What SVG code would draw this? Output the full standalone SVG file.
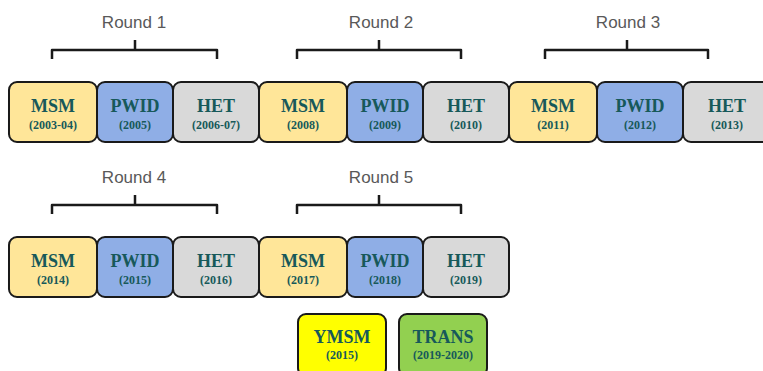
<svg xmlns="http://www.w3.org/2000/svg" width="763" height="371" viewBox="0 0 763 371">
<style>
.box{stroke:#1a1a1a;stroke-width:2}
.msm{fill:#FFE699}.pwid{fill:#8FAEE6}.het{fill:#D9D9D9}.ymsm{fill:#FFFF00}.trans{fill:#92D050}
.t{font-family:"Liberation Serif",serif;font-weight:bold;fill:#17595A;text-anchor:middle}
.n{font-size:18px}.y{font-size:12px}
.r{font-family:"Liberation Sans",sans-serif;font-size:17px;fill:#595959;text-anchor:middle}
.br{fill:none;stroke:#1a1a1a;stroke-width:2.5;stroke-linejoin:round}
</style>
<rect width="763" height="371" fill="#ffffff"/>
<g id="connectors">
<path class="br" d="M52 59 V50 H217 V59 M135 50 V40"/>
<path class="br" d="M297 59 V50 H461 V59 M379 50 V40"/>
<path class="br" d="M545 59 V50 H708 V59 M627 50 V40"/>
<path class="br" d="M52 214 V205 H217 V214 M135 205 V195"/>
<path class="br" d="M297 214 V205 H461 V214 M379 205 V195"/>
</g>
<g id="labels">
<text class="r" x="134" y="28">Round 1</text>
<text class="r" x="381" y="28">Round 2</text>
<text class="r" x="628" y="28">Round 3</text>
<text class="r" x="134" y="183">Round 4</text>
<text class="r" x="381" y="183">Round 5</text>
</g>
<g id="r1-msm"><rect class="box msm" x="9" y="82" width="88" height="60" rx="8"/><text class="t n" x="53" y="112">MSM</text><text class="t y" x="53" y="129">(2003-04)</text></g>
<g id="r1-pwid"><rect class="box pwid" x="97" y="82" width="76" height="60" rx="8"/><text class="t n" x="135" y="112">PWID</text><text class="t y" x="135" y="129">(2005)</text></g>
<g id="r1-het"><rect class="box het" x="173" y="82" width="86" height="60" rx="8"/><text class="t n" x="216" y="112">HET</text><text class="t y" x="216" y="129">(2006-07)</text></g>
<g id="r2-msm"><rect class="box msm" x="259" y="82" width="88" height="60" rx="8"/><text class="t n" x="303" y="112">MSM</text><text class="t y" x="303" y="129">(2008)</text></g>
<g id="r2-pwid"><rect class="box pwid" x="347" y="82" width="76" height="60" rx="8"/><text class="t n" x="385" y="112">PWID</text><text class="t y" x="385" y="129">(2009)</text></g>
<g id="r2-het"><rect class="box het" x="423" y="82" width="86" height="60" rx="8"/><text class="t n" x="466" y="112">HET</text><text class="t y" x="466" y="129">(2010)</text></g>
<g id="r3-msm"><rect class="box msm" x="509" y="82" width="88" height="60" rx="8"/><text class="t n" x="553" y="112">MSM</text><text class="t y" x="553" y="129">(2011)</text></g>
<g id="r3-pwid"><rect class="box pwid" x="597" y="82" width="86" height="60" rx="8"/><text class="t n" x="640" y="112">PWID</text><text class="t y" x="640" y="129">(2012)</text></g>
<g id="r3-het"><rect class="box het" x="683" y="82" width="88" height="60" rx="8"/><text class="t n" x="727" y="112">HET</text><text class="t y" x="727" y="129">(2013)</text></g>
<g id="r4-msm"><rect class="box msm" x="9" y="237" width="88" height="60" rx="8"/><text class="t n" x="53" y="267">MSM</text><text class="t y" x="53" y="284">(2014)</text></g>
<g id="r4-pwid"><rect class="box pwid" x="97" y="237" width="76" height="60" rx="8"/><text class="t n" x="135" y="267">PWID</text><text class="t y" x="135" y="284">(2015)</text></g>
<g id="r4-het"><rect class="box het" x="173" y="237" width="86" height="60" rx="8"/><text class="t n" x="216" y="267">HET</text><text class="t y" x="216" y="284">(2016)</text></g>
<g id="r5-msm"><rect class="box msm" x="259" y="237" width="88" height="60" rx="8"/><text class="t n" x="303" y="267">MSM</text><text class="t y" x="303" y="284">(2017)</text></g>
<g id="r5-pwid"><rect class="box pwid" x="347" y="237" width="76" height="60" rx="8"/><text class="t n" x="385" y="267">PWID</text><text class="t y" x="385" y="284">(2018)</text></g>
<g id="r5-het"><rect class="box het" x="423" y="237" width="86" height="60" rx="8"/><text class="t n" x="466" y="267">HET</text><text class="t y" x="466" y="284">(2019)</text></g>
<g id="ymsm"><rect class="box ymsm" x="298" y="314" width="88" height="62" rx="8"/><text class="t n" x="342" y="343">YMSM</text><text class="t y" x="342" y="359">(2015)</text></g>
<g id="trans"><rect class="box trans" x="399" y="314" width="88" height="62" rx="8"/><text class="t n" x="443" y="343">TRANS</text><text class="t y" x="443" y="359">(2019-2020)</text></g>
</svg>
